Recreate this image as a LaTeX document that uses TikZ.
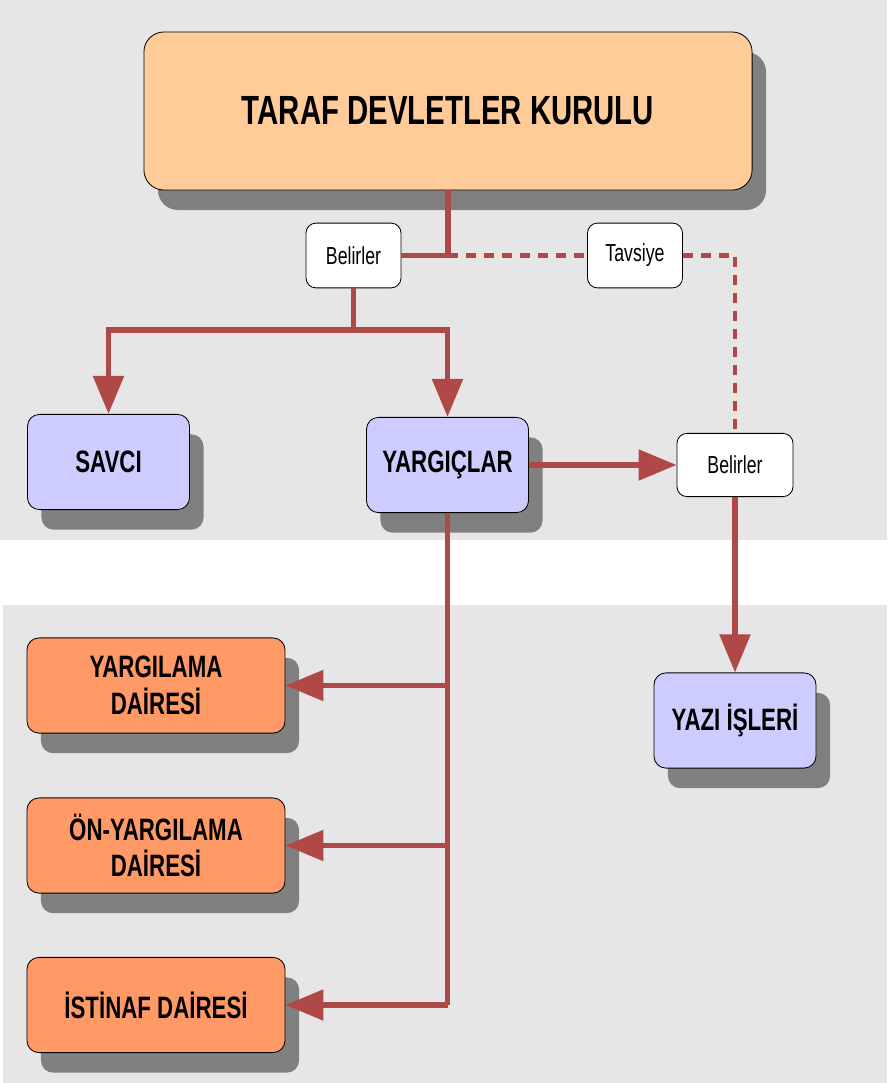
\documentclass[tikz,border=0pt]{standalone}
\usepackage{fontspec}
\setmainfont{Liberation Sans}[FakeStretch=0.72]
\usetikzlibrary{arrows.meta, shadows}
\definecolor{bggrey}{RGB}{230, 230, 230}
\definecolor{shadowgrey}{RGB}{128, 128, 128}
\definecolor{colorpeach}{RGB}{255, 204, 153}
\definecolor{colorlilac}{RGB}{204, 204, 255}
\definecolor{colororange}{RGB}{255, 153, 102}
\definecolor{colorlink}{RGB}{176, 72, 72}
\tikzstyle{shade} = [drop shadow={shadow xshift=0.35cm, shadow yshift=-0.5cm, fill=shadowgrey, opacity=1}]
\tikzstyle{assembly} = [rectangle, rounded corners=0.5cm, minimum width=15.2cm, minimum height=3.95cm, text centered, draw=black, line width=0.6pt, fill=colorpeach, shade, font=\bfseries\fontsize{29}{32}\selectfont]
\tikzstyle{organ} = [rectangle, rounded corners=0.3cm, minimum width=4.05cm, minimum height=2.38cm, text centered, draw=black, line width=0.6pt, fill=colorlilac, shade, font=\bfseries\fontsize{22}{25}\selectfont]
\tikzstyle{chamber} = [rectangle, rounded corners=0.3cm, minimum width=6.45cm, minimum height=2.38cm, align=center, draw=black, line width=0.6pt, fill=colororange, shade, font=\bfseries\fontsize{22}{26}\selectfont]
\tikzstyle{note} = [rectangle, rounded corners=0.25cm, minimum width=2.375cm, minimum height=1.62cm, text centered, draw=black, line width=0.6pt, fill=white, font=\fontsize{17.5}{20}\selectfont]
\tikzstyle{link} = [line width=3.8pt, draw=colorlink]
\tikzstyle{arrow} = [link, -{Triangle[length=0.95cm, width=0.75cm]}]
\tikzstyle{dashlink} = [line width=3pt, draw=colorlink, dash pattern=on 0.25cm off 0.2cm]
\begin{document}
\begin{tikzpicture}[x=0.025cm, y=-0.025cm]
\useasboundingbox (0,0) rectangle (887,1083);

% Background bands
\fill[bggrey] (0,0) rectangle (887,540);
\fill[bggrey] (3,605) rectangle (887,1083);

% Nodes
\node (assembly) [assembly] at (448,111) {TARAF DEVLETLER KURULU};
\node (names1) [note] at (353.5,255.5) {Belirler};
\node (advice) [note] at (635,255.5) {Tavsiye};
\node (prosecutor) [organ] at (108.5,462) {SAVCI};
\node (judges) [organ] at (447.5,465) {YARGIÇLAR};
\node (names2) [note, minimum width=2.9cm, minimum height=1.58cm] at (735,465) {Belirler};
\node (registry) [organ] at (735,720.5) {YAZI İŞLERİ};
\node (trial) [chamber] at (156,685.5) {YARGILAMA\\DAİRESİ};
\node (pretrial) [chamber] at (156,845.5) {ÖN-YARGILAMA\\DAİRESİ};
\node (appeals) [chamber] at (156,1005) {İSTİNAF DAİRESİ};
\coordinate (split) at (353.5,330);

% Solid connectors
\draw [link] (assembly.south) |- (names1.east);
\draw [link] (names1.south) -- (split);
\draw [arrow] (split) -| (prosecutor.north);
\draw [arrow] (split) -| (judges.north);
\draw [arrow] (judges.east) -- (names2.west);
\draw [arrow] (names2.south) -- (registry.north);

% Dashed recommendation line
\draw [dashlink] (assembly.south |- advice.west) -- (advice.west);
\draw [dashlink] (advice.east) -| (names2.north);

% Chambers
\draw [link] (judges.south) -- (judges.south |- appeals.east);
\foreach \n in {trial, pretrial, appeals}
  \draw [arrow] (judges.south |- \n.east) -- (\n.east);

\end{tikzpicture}
\end{document}
